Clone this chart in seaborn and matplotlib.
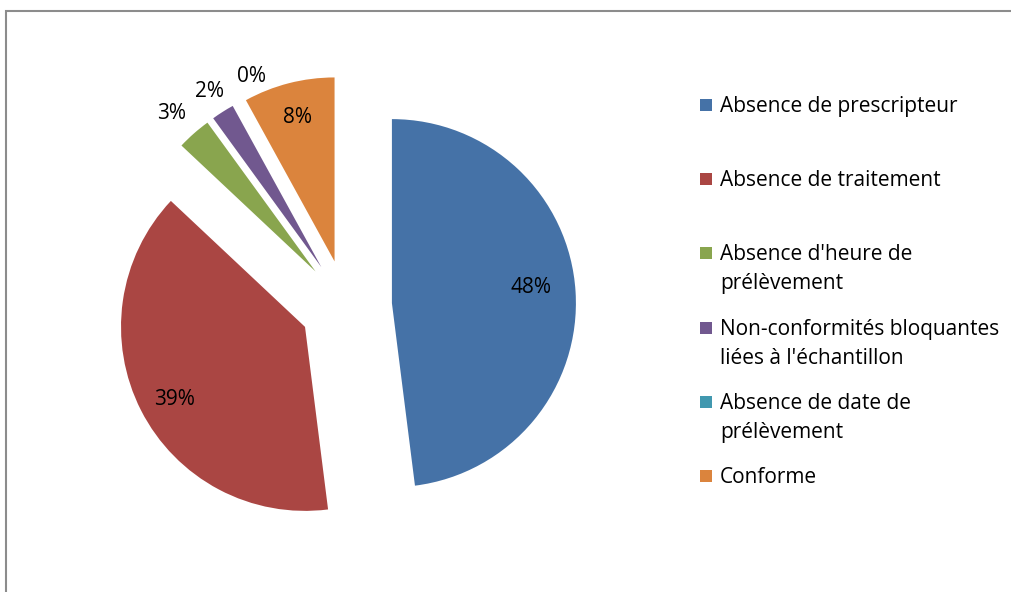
import numpy as np
import matplotlib
matplotlib.use("Agg")
import matplotlib.pyplot as plt
from matplotlib.patches import Rectangle
import seaborn as sns

# Categories of non-conformity and their share of requests (%)
categories = [
    "Absence de prescripteur",
    "Absence de traitement",
    "Absence d'heure de\nprélèvement",
    "Non-conformités bloquantes\nliées à l'échantillon",
    "Absence de date de\nprélèvement",
    "Conforme",
]
shares = [48, 39, 3, 2, 0, 8]
colors = ["#4572A7", "#AA4643", "#89A54E", "#71588F", "#4198AF", "#DB843D"]

# Label placement: radial distance (in radii) and small angular nudge (deg)
label_dist = [0.76, 0.81, 1.16, 1.13, 1.10, 0.81]
label_nudge = [3, 2, 1, 0, -8, 0]

sns.set_theme(style="white")
plt.rcParams["font.family"] = ["Open Sans", "DejaVu Sans"]
FS = 15

W, H = 1011, 592
fig = plt.figure(figsize=(W / 100, H / 100), dpi=100)
fig.patch.set_facecolor("white")

# Pie drawn in radius units; axes fill the figure with equal scaling
R_PX = 184.0
CX, CY = 346.0, 306.0
ax = fig.add_axes([0, 0, 1, 1])
wedges, _ = ax.pie(
    shares,
    colors=colors,
    explode=[0.25] * len(shares),
    startangle=90,
    counterclock=False,
    radius=1.0,
    wedgeprops=dict(linewidth=0),
)
ax.set_xlim(-CX / R_PX, (W - CX) / R_PX)
ax.set_ylim(-(H - CY) / R_PX, CY / R_PX)
ax.axis("off")

# Percentage labels
for w, v, d, nud in zip(wedges, shares, label_dist, label_nudge):
    mid = np.deg2rad((w.theta1 + w.theta2) / 2 + nud)
    cx, cy = w.center
    ax.text(cx + d * np.cos(mid), cy + d * np.sin(mid), f"{v}%",
            ha="center", va="center", fontsize=FS, color="black")

# Legend, one slot per entry with the marker on the first line
LX, LY0, LSTEP = 700, 105, 74.2
for i, (name, col) in enumerate(zip(categories, colors)):
    y = LY0 + i * LSTEP
    fig.patches.append(Rectangle(((LX) / W, 1 - (y + 6) / H), 12 / W, 12 / H,
                                 transform=fig.transFigure, facecolor=col,
                                 edgecolor="none"))
    fig.text((LX + 20) / W, 1 - (y - 9) / H, name, ha="left", va="top",
             fontsize=FS, color="black", linespacing=1.5)

# Chart area frame
fig.patches.append(Rectangle((6 / W, -0.1), 1.2, 1 - 11 / H + 0.1,
                             transform=fig.transFigure, facecolor="none",
                             edgecolor="#8c8c8c", linewidth=1.5))

fig.savefig("out.png", dpi=100, facecolor="white")
